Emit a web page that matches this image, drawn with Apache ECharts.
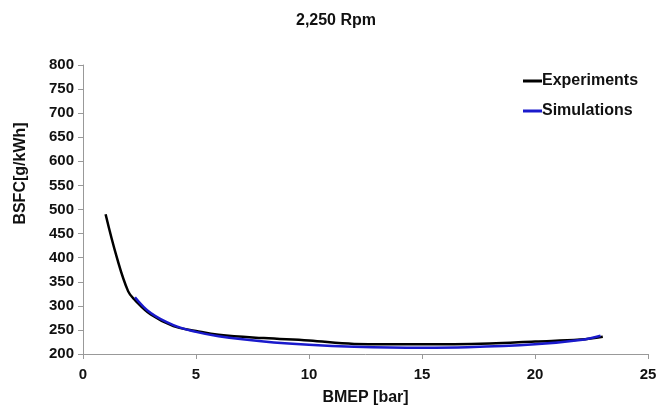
<!DOCTYPE html>
<html>
<head>
<meta charset="utf-8">
<script src="https://cdn.jsdelivr.net/npm/echarts@6/dist/echarts.min.js"></script>
<style>
    html, body { margin: 0; padding: 0; background: #fff; }
    #chart { width: 672px; height: 407px; }
</style>
</head>
<body>
<div id="chart"></div>
<script>
    var expX = [1, 1.5, 2, 2.3, 3, 4, 5, 6, 8, 10, 12, 15, 18, 20, 22, 23];
    var expY = [490, 400, 330, 312, 282, 258, 248, 240, 233, 228, 221, 220, 222, 226, 230, 236];
    var simX = [2.3, 3, 4, 5, 6, 8, 10, 12, 15, 17, 20, 22, 22.9];
    var simY = [318, 285, 260, 246, 237, 226, 219, 215, 213, 214, 220, 229, 238];
    var xTicks = [0, 5, 10, 15, 20, 25];
    var yTicks = [200, 250, 300, 350, 400, 450, 500, 550, 600, 650, 700, 750, 800];

    function pairs(xs, ys) {
        return xs.map(function (x, i) { return [x, ys[i]]; });
    }

    var font = 'Liberation Sans, Arial, sans-serif';
    var chart = echarts.init(document.getElementById('chart'));
    chart.setOption({
        backgroundColor: '#fff',
        animation: false,
        title: {
            text: '2,250 Rpm',
            left: 'center',
            top: 8,
            textStyle: { fontFamily: font, fontSize: 16, fontWeight: 'bold', color: '#111' }
        },
        legend: {
            orient: 'vertical',
            left: 518,
            top: 68,
            itemGap: 14,
            itemWidth: 19,
            itemHeight: 3,
            icon: 'rect',
            textStyle: { fontFamily: font, fontSize: 16, fontWeight: 'bold', color: '#111', padding: [0, 0, 0, -5] },
            data: ['Experiments', 'Simulations']
        },
        grid: { left: 83, right: 24, top: 65, bottom: 53, containLabel: false, outerBoundsMode: 'none' },
        xAxis: {
            type: 'value',
            min: xTicks[0],
            max: xTicks[xTicks.length - 1],
            interval: 5,
            name: 'BMEP [bar]',
            nameLocation: 'middle',
            nameGap: 36,
            nameTextStyle: { fontFamily: font, fontSize: 16, fontWeight: 'bold', color: '#111' },
            axisLine: { lineStyle: { color: '#999' } },
            axisTick: { show: true, length: 5, lineStyle: { color: '#999' } },
            axisLabel: { fontFamily: font, fontSize: 15, fontWeight: 'bold', color: '#111', margin: 13 },
            splitLine: { show: false }
        },
        yAxis: {
            type: 'value',
            min: yTicks[0],
            max: yTicks[yTicks.length - 1],
            interval: 50,
            name: 'BSFC[g/kWh]',
            nameLocation: 'middle',
            nameGap: 54,
            nameTextStyle: { fontFamily: font, fontSize: 16, fontWeight: 'bold', color: '#111', padding: [0, 0, 0, 72] },
            axisLine: { show: true, lineStyle: { color: '#999' } },
            axisTick: { show: true, length: 5, lineStyle: { color: '#999' } },
            axisLabel: { fontFamily: font, fontSize: 15, fontWeight: 'bold', color: '#111', margin: 9 },
            splitLine: { show: false }
        },
        series: [
            {
                name: 'Experiments',
                type: 'line',
                smooth: 0.4,
                symbol: 'none',
                lineStyle: { color: '#000', width: 2.5 },
                itemStyle: { color: '#000' },
                data: pairs(expX, expY),
                z: 2
            },
            {
                name: 'Simulations',
                type: 'line',
                smooth: 0.4,
                symbol: 'none',
                lineStyle: { color: '#1a1acc', width: 2.5 },
                itemStyle: { color: '#1a1acc' },
                data: pairs(simX, simY),
                z: 3
            }
        ]
    });
</script>
</body>
</html>
